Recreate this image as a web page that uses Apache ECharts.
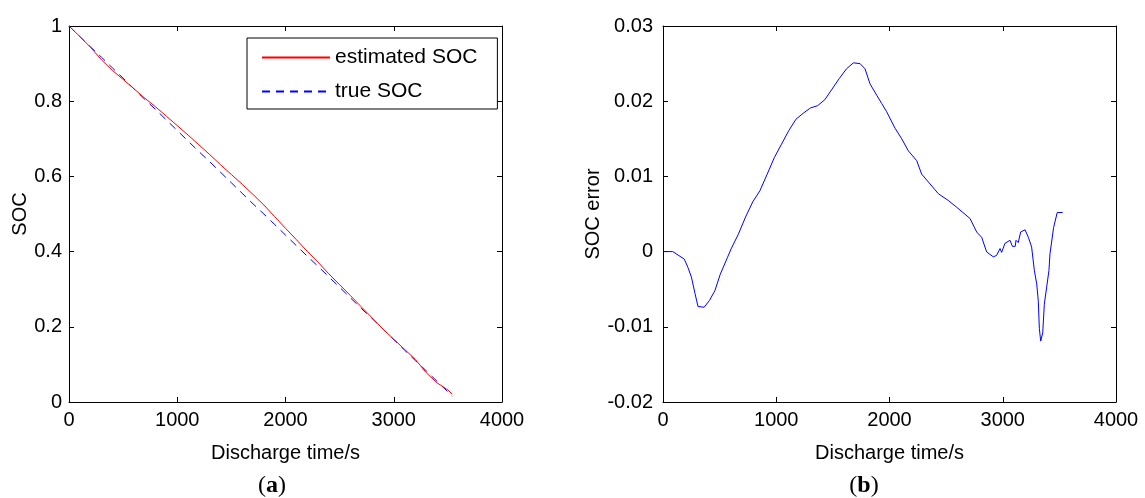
<!DOCTYPE html>
<html>
<head>
<meta charset="utf-8">
<script src="https://cdn.jsdelivr.net/npm/echarts@6/dist/echarts.min.js"></script>
<style>
  html, body { margin: 0; padding: 0; background: #fff; }
  #chart { width: 1145px; height: 498px; }
</style>
</head>
<body>
<div id="chart"></div>
<script>
// left panel: SOC over discharge time (s)
const socTime = [0, 100, 200, 300, 400, 500, 600, 700, 800, 900, 1000, 1100, 1200, 1300, 1400, 1500,
  1600, 1700, 1800, 1900, 2000, 2100, 2200, 2300, 2400, 2500, 2600, 2700, 2800, 2900, 3000, 3100,
  3200, 3300, 3400, 3500, 3540];
const trueSoc = [1.000, 0.972, 0.944, 0.917, 0.889, 0.861, 0.833, 0.805, 0.778, 0.750, 0.722, 0.694,
  0.666, 0.639, 0.611, 0.583, 0.555, 0.527, 0.500, 0.472, 0.444, 0.416, 0.388, 0.361, 0.333, 0.305,
  0.277, 0.249, 0.222, 0.194, 0.166, 0.138, 0.110, 0.083, 0.055, 0.027, 0.016];
const estimatedSoc = [1.000, 0.972, 0.943, 0.910, 0.882, 0.858, 0.833, 0.808, 0.785, 0.760, 0.735,
  0.710, 0.684, 0.658, 0.631, 0.605, 0.579, 0.552, 0.524, 0.493, 0.462, 0.432, 0.401, 0.372, 0.341,
  0.312, 0.283, 0.253, 0.224, 0.194, 0.167, 0.140, 0.113, 0.078, 0.051, 0.032, 0.021];

// right panel: SOC error
const errTime = [0, 86, 188, 220, 251, 283, 309, 363, 410, 458, 506, 570, 601, 665, 729, 792, 856,
  920, 983, 1047, 1111, 1174, 1238, 1302, 1365, 1429, 1492, 1556, 1620, 1681, 1740, 1784, 1828, 1887,
  1931, 1975, 2049, 2108, 2166, 2240, 2284, 2358, 2431, 2519, 2593, 2711, 2770, 2814, 2858, 2917,
  2946, 2976, 2990, 3020, 3064, 3085, 3110, 3117, 3137, 3158, 3197, 3226, 3255, 3279, 3300, 3314,
  3323, 3335, 3353, 3367, 3388, 3408, 3417, 3449, 3481, 3529];
const socError = [0, 0, -0.0010, -0.0021, -0.0034, -0.0056, -0.0073, -0.0074, -0.0065, -0.0052,
  -0.0030, -0.00075, 0.00035, 0.0023, 0.0046, 0.0066, 0.0081, 0.0103, 0.0125, 0.0143, 0.0161, 0.0176,
  0.0184, 0.0191, 0.0194, 0.0202, 0.0216, 0.0230, 0.0243, 0.0251, 0.0250, 0.0243, 0.0223, 0.0208,
  0.0197, 0.0186, 0.0164, 0.0150, 0.0134, 0.0121, 0.0103, 0.0090, 0.0077, 0.0068, 0.0059, 0.0044,
  0.0026, 0.0019, -0.00005, -0.0007, -0.0005, 0.0004, -0.0001, 0.0011, 0.0015, 0.0007, 0.0007,
  0.0015, 0.0012, 0.0026, 0.0029, 0.0019, 0.0006, -0.0025, -0.0043, -0.0066, -0.0102, -0.0119,
  -0.0108, -0.0070, -0.0047, -0.0025, -0.0003, 0.0032, 0.0052, 0.0052];

const font = "'Liberation Sans', Arial, sans-serif";
const serif = "'Liberation Serif', 'DejaVu Serif', serif";
const black = '#000';

const zip = (xs, ys) => xs.map((x, i) => [x, ys[i]]);

// one panel = box with inward ticks on all four sides
const xAxisFor = (gridIndex, position, showLabel) => ({
  type: 'value',
  gridIndex,
  position,
  min: 0,
  max: 4000,
  interval: 1000,
  splitLine: { show: false },
  axisLine: { show: true, onZero: false, lineStyle: { color: black, width: 1 } },
  axisTick: { show: true, inside: true, length: 5, lineStyle: { color: black } },
  axisLabel: {
    show: showLabel,
    color: black,
    fontFamily: font,
    fontSize: 20,
    margin: 8,
    formatter: v => String(v),
  },
  name: showLabel ? 'Discharge time/s' : '',
  nameLocation: 'middle',
  nameGap: 41,
  nameTextStyle: { color: black, fontFamily: font, fontSize: 20 },
});

const yAxisFor = (gridIndex, position, showLabel, range, name, nameGap, margin) => ({
  type: 'value',
  gridIndex,
  position,
  min: range[0],
  max: range[1],
  interval: range[2],
  splitLine: { show: false },
  axisLine: { show: true, onZero: false, lineStyle: { color: black, width: 1 } },
  axisTick: { show: true, inside: true, length: 5, lineStyle: { color: black } },
  axisLabel: {
    show: showLabel,
    color: black,
    fontFamily: font,
    fontSize: 20,
    margin,
    formatter: v => String(+v.toFixed(3)),
  },
  name: showLabel ? name : '',
  nameLocation: 'middle',
  nameGap,
  nameTextStyle: { color: black, fontFamily: font, fontSize: 20 },
});

const chart = echarts.init(document.getElementById('chart'));

chart.setOption({
  backgroundColor: '#fff',
  animation: false,
  grid: [
    { left: 69, top: 26, width: 433, height: 376 },
    { left: 663, top: 26, width: 453, height: 376 },
  ],
  xAxis: [
    xAxisFor(0, 'bottom', true),
    xAxisFor(0, 'top', false),
    xAxisFor(1, 'bottom', true),
    xAxisFor(1, 'top', false),
  ],
  yAxis: [
    yAxisFor(0, 'left', true, [0, 1, 0.2], 'SOC', 38, 7),
    yAxisFor(0, 'right', false, [0, 1, 0.2], '', 0, 7),
    yAxisFor(1, 'left', true, [-0.02, 0.03, 0.01], 'SOC error', 50, 10),
    yAxisFor(1, 'right', false, [-0.02, 0.03, 0.01], '', 0, 10),
  ],
  legend: {
    orient: 'vertical',
    left: 247,
    top: 38,
    padding: [9, 20, 7, 14],
    itemGap: 13,
    itemWidth: 68,
    itemHeight: 14,
    borderColor: black,
    borderWidth: 1,
    backgroundColor: '#fff',
    itemStyle: { opacity: 0 },
    textStyle: { color: black, fontFamily: font, fontSize: 21 },
    data: ['estimated SOC', 'true SOC'],
  },
  series: [
    {
      name: 'estimated SOC',
      type: 'line',
      xAxisIndex: 0,
      yAxisIndex: 0,
      data: zip(socTime, estimatedSoc),
      showSymbol: false,
      lineStyle: { color: '#ff0000', width: 1 },
      itemStyle: { color: '#ff0000', opacity: 0 },
      z: 3,
    },
    {
      name: 'true SOC',
      type: 'line',
      xAxisIndex: 0,
      yAxisIndex: 0,
      data: zip(socTime, trueSoc),
      showSymbol: false,
      lineStyle: { color: '#0000ff', width: 1, type: [8, 6] },
      itemStyle: { color: '#0000ff', opacity: 0 },
      z: 2,
    },
    {
      name: 'SOC error',
      type: 'line',
      xAxisIndex: 2,
      yAxisIndex: 2,
      data: zip(errTime, socError),
      showSymbol: false,
      lineStyle: { color: '#0000ff', width: 1 },
    },
  ],
  // panel captions (a) and (b)
  graphic: [
    ['a', 272],
    ['b', 864],
  ].map(([letter, x]) => ({
    type: 'text',
    x,
    y: 486,
    style: {
      text: '{p|(}{l|' + letter + '}{p|)}',
      align: 'center',
      verticalAlign: 'middle',
      rich: {
        p: { fontFamily: serif, fontSize: 24, fill: black },
        l: { fontFamily: serif, fontSize: 24, fontWeight: 'bold', fill: black },
      },
    },
  })),
});
</script>
</body>
</html>
